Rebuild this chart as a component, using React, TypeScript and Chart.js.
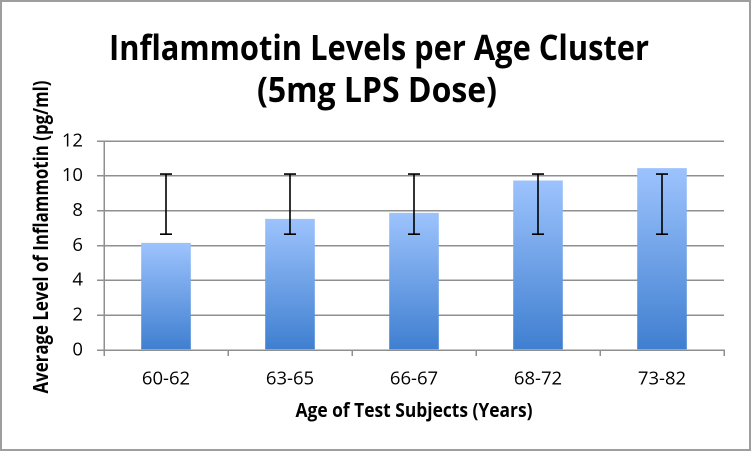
import { useEffect, useRef } from "react";
import { Chart, registerables } from "chart.js";

Chart.register(...registerables);

const categories = ["60-62", "63-65", "66-67", "68-72", "73-82"];
const values = [6.15, 7.53, 7.87, 9.73, 10.44];
const errLow = [6.65, 6.65, 6.65, 6.65, 6.65];
const errHigh = [10.1, 10.1, 10.1, 10.1, 10.1];
const yTickValues = [0, 2, 4, 6, 8, 10, 12];
const titleLines = ["Inflammotin Levels per Age Cluster", "(5mg LPS Dose)"];
const xTitle = "Age of Test Subjects (Years)";
const yTitle = "Average Level of Inflammotin (pg/ml)";

const FONT = "'Open Sans', 'Noto Sans', sans-serif";
const GRID = "#8f8f8f";

// draws text at a given font size, squeezed horizontally to a target width
function drawSqueezed(
  ctx: CanvasRenderingContext2D,
  text: string,
  x: number,
  y: number,
  size: number,
  target: number
) {
  ctx.save();
  ctx.font = `bold ${size}px ${FONT}`;
  const w = ctx.measureText(text).width;
  const sx = Math.min(1, target / w);
  ctx.translate(x, y);
  ctx.scale(sx, 1);
  ctx.fillText(text, 0, 0);
  ctx.restore();
}

const decorPlugin = {
  id: "decor",
  beforeDraw(chart: any) {
    const ctx = chart.ctx as CanvasRenderingContext2D;
    ctx.save();
    ctx.fillStyle = "#ffffff";
    ctx.fillRect(0, 0, chart.width, chart.height);
    ctx.restore();
  },
  afterDatasetsDraw(chart: any) {
    const ctx = chart.ctx as CanvasRenderingContext2D;
    const meta = chart.getDatasetMeta(0);
    const ys = chart.scales.y;
    ctx.save();
    ctx.strokeStyle = "#000000";
    ctx.lineWidth = 1.6;
    meta.data.forEach((bar: any, i: number) => {
      const x = bar.x;
      const yT = ys.getPixelForValue(errHigh[i]);
      const yB = ys.getPixelForValue(errLow[i]);
      ctx.beginPath();
      ctx.moveTo(x, yT);
      ctx.lineTo(x, yB);
      ctx.moveTo(x - 6, yT);
      ctx.lineTo(x + 6, yT);
      ctx.moveTo(x - 6, yB);
      ctx.lineTo(x + 6, yB);
      ctx.stroke();
    });
    ctx.restore();
  },
  afterDraw(chart: any) {
    const ctx = chart.ctx as CanvasRenderingContext2D;
    const area = chart.chartArea;
    ctx.save();
    ctx.fillStyle = "#000000";
    ctx.textAlign = "center";
    ctx.textBaseline = "alphabetic";
    drawSqueezed(ctx, titleLines[0], 379, 60, 35, 540);
    drawSqueezed(ctx, titleLines[1], 377, 102, 35, 240);
    drawSqueezed(ctx, xTitle, (area.left + area.right) / 2, 417, 19.5, 237);

    ctx.save();
    ctx.translate(48, 237);
    ctx.rotate(-Math.PI / 2);
    drawSqueezed(ctx, yTitle, 0, 0, 20.5, 313);
    ctx.restore();
    ctx.restore();

    ctx.save();
    ctx.strokeStyle = "#9e9e9e";
    ctx.lineWidth = 2;
    ctx.strokeRect(1, 1, 749, 449);
    ctx.restore();
  },
};

export default function App() {
  const ref = useRef<HTMLCanvasElement | null>(null);
  useEffect(() => {
    document.body.style.margin = "0";
    const canvas = ref.current!;
    const chart = new Chart(canvas, {
      type: "bar",
      data: {
        labels: categories,
        datasets: [
          {
            data: values,
            borderWidth: 0,
            barPercentage: 0.4,
            categoryPercentage: 1,
            backgroundColor: (c: any) => {
              const ch = c.chart;
              const ys = ch.scales?.y;
              if (!ys || c.raw == null || !ch.chartArea) return "#6a9fe6";
              const top = ys.getPixelForValue(c.raw);
              const bot = ys.getPixelForValue(0);
              if (!Number.isFinite(top) || !Number.isFinite(bot) || top === bot) return "#6a9fe6";
              const g = ch.ctx.createLinearGradient(0, top, 0, bot);
              g.addColorStop(0, "#9dc3fd");
              g.addColorStop(1, "#3f7fd0");
              return g;
            },
          },
        ],
      },
      options: {
        animation: false,
        responsive: false,
        devicePixelRatio: 2,
        layout: { padding: { top: 141, left: 0, right: 28, bottom: 0 } },
        plugins: {
          legend: { display: false },
          title: { display: false },
          tooltip: { enabled: false },
        },
        scales: {
          x: {
            afterFit: (s: any) => {
              s.height = 103;
            },
            grid: {
              display: true,
              offset: true,
              drawOnChartArea: false,
              tickLength: 6,
              color: GRID,
              lineWidth: 1.5,
            },
            border: { display: true, color: GRID, width: 1.5 },
            ticks: {
              color: "#000000",
              font: { family: FONT, size: 18.5 },
              padding: 12,
            },
          },
          y: {
            min: 0,
            max: 12,
            afterFit: (s: any) => {
              s.width = 104;
            },
            afterBuildTicks: (s: any) => {
              s.ticks = yTickValues.map((v) => ({ value: v }));
            },
            grid: {
              color: GRID,
              lineWidth: 1.5,
              tickLength: 7,
              tickColor: GRID,
            },
            border: { display: true, color: GRID, width: 1.5 },
            ticks: {
              color: "#000000",
              font: { family: FONT, size: 18.5 },
              padding: 14,
            },
          },
        },
      },
      plugins: [decorPlugin],
    });
    return () => chart.destroy();
  }, []);
  return (
    <div style={{ width: 752, height: 453 }}>
      <canvas ref={ref} width={752} height={453} style={{ width: 752, height: 453, display: "block" }} />
    </div>
  );
}
